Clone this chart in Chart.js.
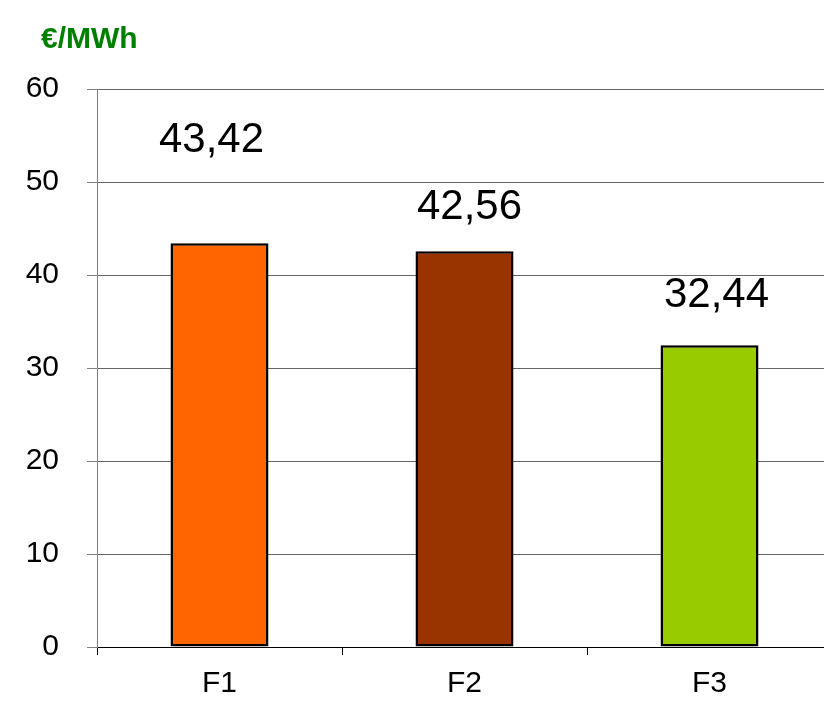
<!DOCTYPE html>
<html>
<head>
<meta charset="utf-8">
<script src="https://cdn.jsdelivr.net/npm/chart.js@4/dist/chart.umd.min.js"></script>
<style>
  html, body { margin: 0; padding: 0; background: #fff; overflow: hidden; }
  #wrap { width: 840px; height: 704px; }
</style>
</head>
<body>
<div id="wrap"><canvas id="chart" width="840" height="704"></canvas></div>
<script>
const categories = ['F1', 'F2', 'F3'];
const prices = [43.42, 42.56, 32.44];
const barColors = ['#FF6600', '#993300', '#99CC00'];
const yTicks = [0, 10, 20, 30, 40, 50, 60];
const unitLabel = '€/MWh';
// where the original put each value label, relative to its bar top (px)
const labelLift = [91, 32, 38];
const labelShift = [-8, 5, 7];

const FONT = '"Liberation Sans", Arial, sans-serif';

const unitTitle = {
  id: 'unitTitle',
  afterDraw(chart) {
    const ctx = chart.ctx;
    ctx.save();
    ctx.font = `bold 30px ${FONT}`;
    ctx.fillStyle = '#008000';
    ctx.textAlign = 'left';
    ctx.textBaseline = 'alphabetic';
    ctx.fillText(unitLabel, 41, 48);
    ctx.restore();
  },
};

const valueLabels = {
  id: 'valueLabels',
  afterDatasetsDraw(chart) {
    const ctx = chart.ctx;
    const meta = chart.getDatasetMeta(0);
    ctx.save();
    ctx.font = `42px ${FONT}`;
    ctx.fillStyle = '#000';
    ctx.textAlign = 'center';
    ctx.textBaseline = 'alphabetic';
    meta.data.forEach((bar, i) => {
      const text = prices[i].toFixed(2).replace('.', ',');
      ctx.fillText(text, bar.x + labelShift[i], bar.y - labelLift[i]);
    });
    ctx.restore();
  },
};

new Chart(document.getElementById('chart'), {
  type: 'bar',
  data: {
    labels: categories,
    datasets: [{
      data: prices,
      backgroundColor: barColors,
      borderColor: '#000',
      borderWidth: 2.5,
      borderSkipped: false,
      barPercentage: 0.4,
      categoryPercentage: 1,
    }],
  },
  options: {
    responsive: false,
    animation: false,
    layout: { padding: { top: 89, right: 8, left: 0, bottom: 0 } },
    plugins: { legend: { display: false }, tooltip: { enabled: false } },
    scales: {
      x: {
        offset: true,
        afterFit(scale) { scale.height = 57; },
        grid: {
          offset: true,
          drawOnChartArea: false,
          drawTicks: true,
          tickLength: 8,
          color: '#000',
        },
        border: { color: '#000', width: 1 },
        ticks: { color: '#000', font: { family: FONT, size: 30 }, padding: 11 },
      },
      y: {
        min: 0,
        max: 60,
        afterFit(scale) { scale.width = 97; },
        afterBuildTicks(scale) { scale.ticks = yTicks.map((v) => ({ value: v })); },
        grid: {
          color: '#666',
          lineWidth: 1,
          borderDash: [2, 2],
          tickLength: 10,
          tickColor: '#808080',
          tickBorderDash: [],
        },
        border: { color: '#808080', width: 1 },
        ticks: { color: '#000', font: { family: FONT, size: 30 }, padding: 28 },
      },
    },
  },
  plugins: [unitTitle, valueLabels],
});
</script>
</body>
</html>
